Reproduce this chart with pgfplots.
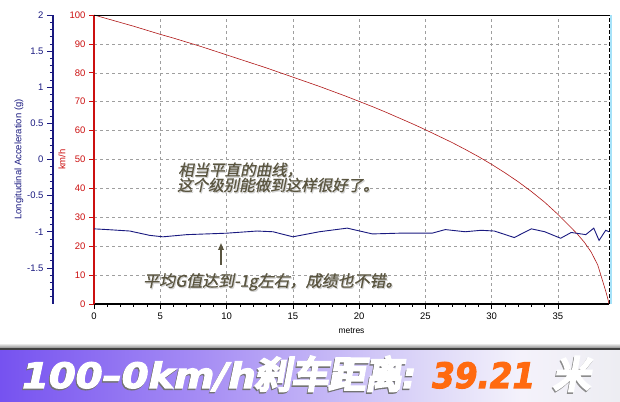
\documentclass[border=0pt]{standalone}
\usepackage{fontspec}
\setmainfont{Liberation Sans}
\newfontfamily\cjkit{Noto Sans CJK SC}[FakeSlant=0.2,FakeBold=1]
\newfontfamily\cjkb{Noto Sans CJK SC}[FakeSlant=0.18,FakeBold=8]
\newfontfamily\dvb{DejaVu Sans}[FakeBold=3]
\usepackage{graphicx}
\usepackage{pgfplots}
\pgfplotsset{compat=1.18}
\usetikzlibrary{arrows.meta}
\definecolor{navyc}{HTML}{1A1A80}
\definecolor{redax}{HTML}{CC1010}
\definecolor{redcurve}{HTML}{B01818}
\definecolor{anno}{HTML}{5A5540}
\definecolor{orangec}{HTML}{FF6A10}
\definecolor{b1}{HTML}{7652F0}
\definecolor{b2}{HTML}{A58CF4}
\definecolor{b3}{HTML}{DCD6F8}
\definecolor{b4}{HTML}{F4F2FB}
\definecolor{b5}{HTML}{EDEDF2}
\pgfdeclarehorizontalshading{banner}{100bp}{color(0bp)=(b1); color(25bp)=(b1); color(41bp)=(b2); color(59bp)=(b3); color(67bp)=(b4); color(75bp)=(b5); color(100bp)=(b5)}
\begin{document}
\begin{tikzpicture}[x=1pt,y=1pt]
\path[use as bounding box] (0,0) rectangle (620,401);
\fill[white] (0,0) rectangle (620,401);
% banner
\shade[shading=banner] (0,0) rectangle (620,51);
\fill[black!75] (0,51) rectangle (620,53);
\shade[top color=white,bottom color=black!45] (0,53) rectangle (620,58);

\begin{axis}[
  at={(94pt,97pt)}, anchor=south west, scale only axis,
  width=515pt, height=289pt,
  xmin=0, xmax=38.85, ymin=0, ymax=100,
  axis x line*=bottom, axis y line*=left,
  clip mode=individual,
  xtick={0,5,...,35}, minor x tick num=4,
  ytick={0,10,...,100},
  tick align=outside,
  major tick length=5pt, minor tick length=3pt,
  grid=major,
  major grid style={gray!75, line width=0.5pt, dash pattern=on 3pt off 3pt},
  x axis line style={black, line width=2pt},
  y axis line style={redax, line width=2pt},
  xtick style={black, line width=0.6pt},
  ytick style={redax, line width=0.6pt},
  yticklabel style={text=redax},
  ticklabel style={font=\fontsize{9.5}{10}\selectfont},
  /pgf/number format/assume math mode=true,
  xlabel={metres},
  xlabel style={at={(axis description cs:0.5,-0.0934)}, anchor=center, font=\fontsize{8.5}{9}\selectfont},
  ylabel={km/h},
  ylabel style={at={(axis description cs:-0.0621,0.5)}, anchor=center, text=redax, font=\fontsize{9.5}{10}\selectfont},
]
\addplot[redcurve, line width=0.6pt] coordinates {
(0,100) (1,98.7) (2,97.4) (3,96.1) (4,94.7) (5,93.3) (6,92) (7,90.6) (8,89.2) (9,87.7)
(10,86.2) (11,84.7) (12,83.2) (13,81.7) (14,80.1) (15,78.5) (16,76.9) (17,75.3) (18,73.6) (19,71.9)
(20,70.1) (21,68.3) (22,66.4) (23,64.4) (24,62.4) (25,60.3) (26,58.1) (27,55.9) (28,53.5) (29,51)
(30,48.3) (31,45.4) (32,42.3) (33,38.9) (34,35.2) (35,31) (36,26.4) (36.5,24) (37,21.3) (37.5,18)
(38,13.5) (38.2,10.5) (38.4,7.5) (38.6,4.5) (38.75,2) (38.85,0)
};
\draw[black, line width=0.8pt] (rel axis cs:0,1) -- (rel axis cs:1,1);
\draw[cyan!35, line width=1.4pt] ([xshift=1.8pt]rel axis cs:1,0) -- ([xshift=1.8pt]rel axis cs:1,1);
\draw[black, line width=1pt, dash pattern=on 4pt off 2pt] (rel axis cs:1,0) -- (rel axis cs:1,1);
\end{axis}

\begin{axis}[
  at={(53pt,97pt)}, anchor=south west, scale only axis,
  width=556pt, height=289pt,
  xmin=-3.093, xmax=38.85, ymin=-2, ymax=2,
  hide x axis, axis y line*=left,
  ytick={-1.5,-1,-0.5,0,0.5,1,1.5,2},
  minor ytick={-1.9,-1.8,...,1.95},
  tick align=outside,
  major tick length=6pt, minor tick length=3pt,
  y axis line style={navyc, line width=1.6pt},
  ytick style={navyc, line width=0.6pt},
  yticklabel style={text=navyc, font=\fontsize{9.5}{10}\selectfont},
  /pgf/number format/assume math mode=true,
  ylabel={Longitudinal Acceleration (g)},
  ylabel style={at={(axis description cs:-0.0612,0.5)}, anchor=center, text=navyc, font=\fontsize{9.5}{10}\selectfont},
]
\addplot[navyc, line width=0.9pt] coordinates {
(0,-0.96) (1,-0.97) (2.7,-0.99) (4.2,-1.05) (5.2,-1.07) (7,-1.04) (10,-1.02) (12.3,-0.99)
(13.5,-1.0) (15,-1.07) (17,-1.0) (19.1,-0.95) (21,-1.03) (23,-1.02) (25.5,-1.02) (26.5,-0.97)
(28,-1.0) (29.2,-0.98) (30.2,-0.99) (31.7,-1.08) (33,-0.96) (34,-1.0) (35.2,-1.09) (36,-1.01)
(37.1,-1.04) (37.7,-0.95) (38.1,-1.12) (38.6,-0.98) (38.85,-1.0)
};
\end{axis}

% annotations
\node[anchor=west, inner sep=0, text=gray!35, font=\cjkit\fontsize{15.5}{16}\selectfont] at (179,229.8) {相当平直的曲线，};
\node[anchor=west, inner sep=0, text=anno, font=\cjkit\fontsize{15.5}{16}\selectfont] at (178,231) {相当平直的曲线，};
\node[anchor=west, inner sep=0, text=gray!35, font=\cjkit\fontsize{15.5}{16}\selectfont] at (178,214.8) {这个级别能做到这样很好了。};
\node[anchor=west, inner sep=0, text=anno, font=\cjkit\fontsize{15.5}{16}\selectfont] at (177,216) {这个级别能做到这样很好了。};
\node[anchor=west, inner sep=0, text=gray!35, font=\cjkit\fontsize{16}{16}\selectfont] at (144,117.8) {平均G值达到-1g左右，成绩也不错。};
\node[anchor=west, inner sep=0, text=anno, font=\cjkit\fontsize{16}{16}\selectfont] at (143,119) {平均G值达到-1g左右，成绩也不错。};
\draw[anno, line width=1.6pt, -{Triangle[length=7pt,width=5.5pt]}] (221,136) -- (221,158);

% banner text
\node[anchor=base west, inner sep=0, text=black!55] at (21,11.5) {\dvb\bfseries\itshape\fontsize{35}{35}\selectfont\scalebox{1.1}[1]{100–0km/h}};
\node[anchor=base west, inner sep=0, text=white] at (22,13) {\dvb\bfseries\itshape\fontsize{35}{35}\selectfont\scalebox{1.1}[1]{100–0km/h}};
\node[anchor=base west, inner sep=0, text=black!55] at (253,11.5) {\cjkb\fontsize{37}{37}\selectfont 刹车距离};
\node[anchor=base west, inner sep=0, text=white] at (254,13) {\cjkb\fontsize{37}{37}\selectfont 刹车距离};
\node[anchor=base west, inner sep=0, text=black!55] at (401,11.5) {\dvb\bfseries\itshape\fontsize{35}{35}\selectfont :};
\node[anchor=base west, inner sep=0, text=white] at (402,13) {\dvb\bfseries\itshape\fontsize{35}{35}\selectfont :};
\node[anchor=base west, inner sep=0, text=orangec] at (432,13) {\dvb\bfseries\itshape\fontsize{35}{35}\selectfont\scalebox{0.93}[1]{39.21}};
\node[anchor=base west, inner sep=0, text=black!45] at (552,11.5) {\cjkb\fontsize{37}{37}\selectfont 米};
\node[anchor=base west, inner sep=0, text=white] at (553,13) {\cjkb\fontsize{37}{37}\selectfont 米};
\end{tikzpicture}
\end{document}
